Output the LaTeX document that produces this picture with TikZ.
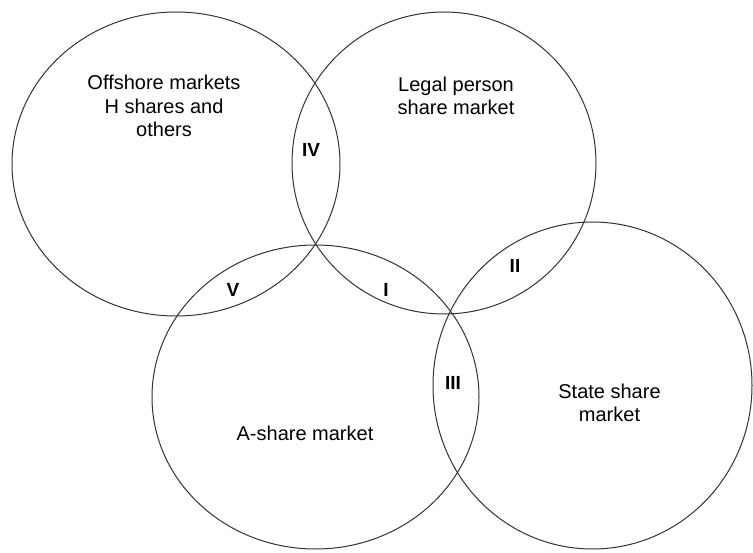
\documentclass[tikz,border=0pt]{standalone}
\usepackage{fontspec}
\setmainfont{Liberation Sans}
\usepackage{tikz}
\usetikzlibrary{positioning}

\begin{document}
\begin{tikzpicture}[x=1pt, y=-1pt, line width=1pt,
    market/.style={align=center, font=\fontsize{20}{23.5}\selectfont, inner sep=0pt},
    region/.style={font=\bfseries\fontsize{19}{22}\selectfont, inner sep=0pt}]
    \useasboundingbox (0,0) rectangle (753,553);

    % Markets
    \coordinate (off) at (176,164);
    \coordinate (leg) at (444,163);
    \coordinate (ash) at (315.5,397);
    \coordinate (sta) at (592.5,385.5);
    \draw[black!80] (off) ellipse [x radius=164, y radius=152];
    \draw[black!80] (leg) ellipse [x radius=152, y radius=151];
    \draw[black!80] (ash) ellipse [x radius=163.5, y radius=152];
    \draw[black!80] (sta) ellipse [x radius=159.5, y radius=163.5];

    % Labels
    \node[market] (offtext) at (164,106) {Offshore markets\\H shares and\\others};
    \node[market] (legtext) at (456,96) {Legal person\\share market};
    \node[market] (ashtext) at (305,433) {A-share market};
    \node[market] (statext) at (609.5,403) {State share\\market};

    % Overlaps
    \node[region] (r1) at (386,290) {I};
    \node[region] (r2) at (515,266) {II};
    \node[region] (r3) at (453,383) {III};
    \node[region] (r4) at (311,150) {IV};
    \node[region] (r5) at (233,290) {V};
\end{tikzpicture}
\end{document}
